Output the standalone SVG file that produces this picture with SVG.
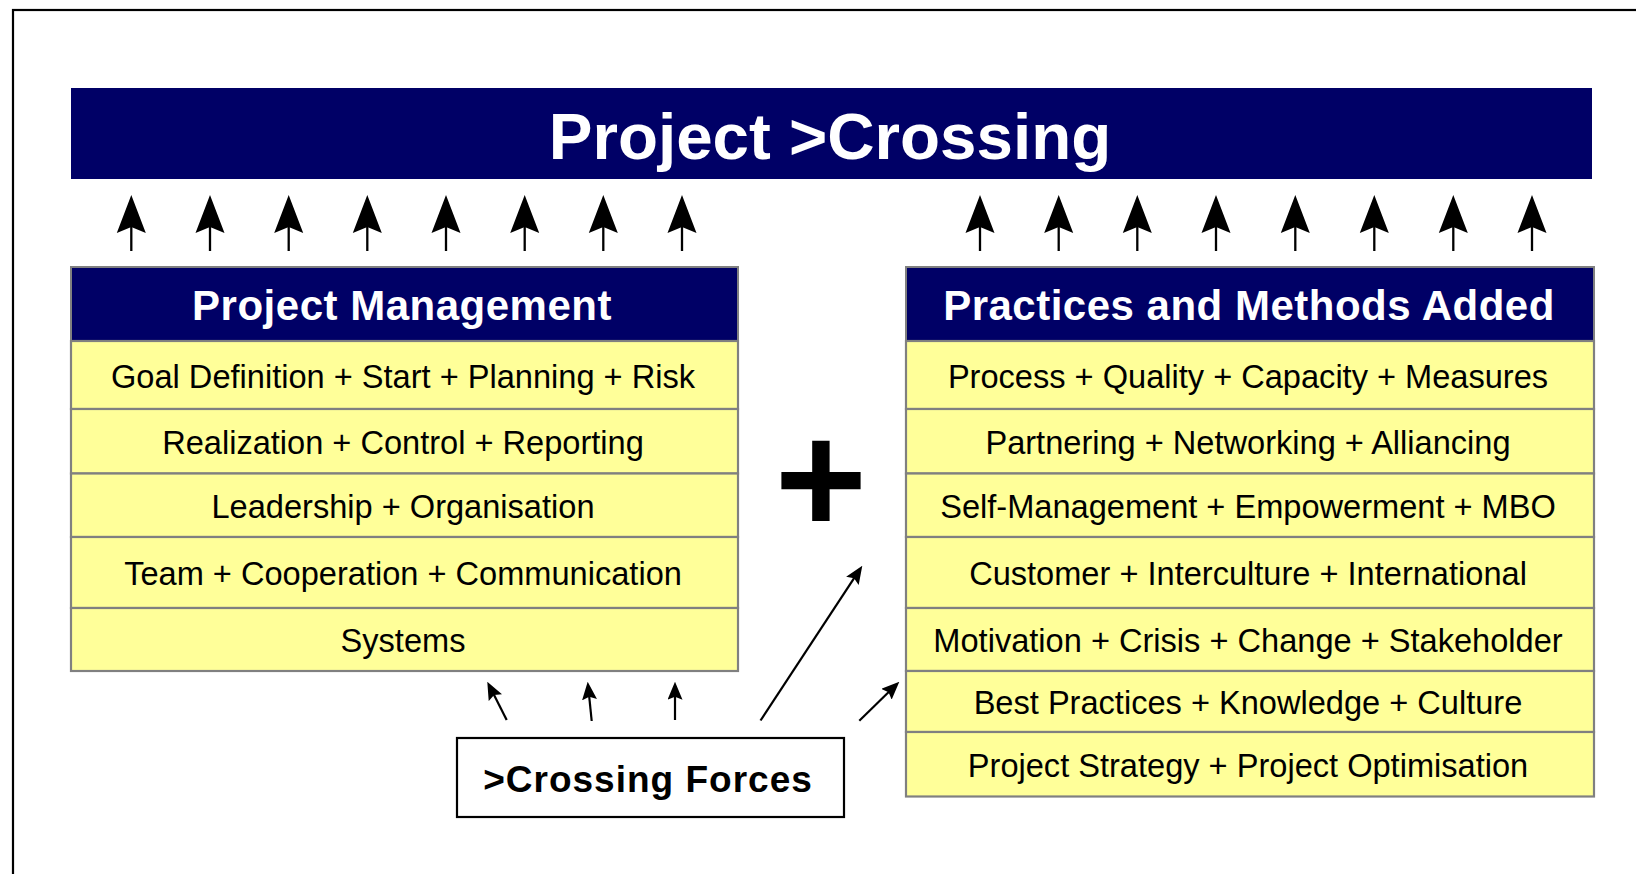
<svg xmlns="http://www.w3.org/2000/svg" width="1636" height="874" viewBox="0 0 1636 874">
<style>
.frame{fill:none;stroke:#000;stroke-width:2.2}
.navy{fill:#000066;stroke:#808080;stroke-width:2}
.row{fill:#ffff99;stroke:#808080;stroke-width:2.2}
.t{font-family:"Liberation Sans",Arial,sans-serif;text-anchor:middle}
.title{font-size:65.5px;font-weight:bold;fill:#fff}
.head{font-size:42px;font-weight:bold;fill:#fff;letter-spacing:0.5px}
.item{font-size:32.6px;fill:#000}
.big{stroke:#000;stroke-width:2.3;fill:none;marker-end:url(#bighead)}
.small{stroke:#000;stroke-width:2.2;fill:none;marker-end:url(#smallhead)}
</style>
<defs>
<marker id="bighead" markerUnits="userSpaceOnUse" viewBox="0 0 38 31" markerWidth="38" markerHeight="31" refX="22" refY="15.5" orient="auto">
<path d="M0,1 L38,15.5 L0,30 L6,15.5 Z" fill="#000"/>
</marker>
<marker id="smallhead" markerUnits="userSpaceOnUse" viewBox="0 0 18 15" markerWidth="18" markerHeight="15" refX="10" refY="7.5" orient="auto">
<path d="M0,0 L18,7.5 L0,15 L3,7.5 Z" fill="#000"/>
</marker>
</defs>
<rect width="1636" height="874" fill="#fff"/>
<rect class="frame" x="13" y="10" width="1640" height="900"/>

<g id="title">
<rect x="71" y="88" width="1521" height="91" fill="#000066"/>
<text class="t title" x="830" y="159">Project &gt;Crossing</text>
</g>

<g id="project-management">
<rect class="navy" x="71" y="267" width="667" height="74"/>
<text class="t head" x="402" y="320">Project Management</text>
<rect class="row" x="71" y="341" width="667" height="68"/>
<text class="t item" x="403" y="387.5">Goal Definition + Start + Planning + Risk</text>
<rect class="row" x="71" y="409" width="667" height="64.5"/>
<text class="t item" x="403" y="453.8">Realization + Control + Reporting</text>
<rect class="row" x="71" y="473.5" width="667" height="63.5"/>
<text class="t item" x="403" y="517.8">Leadership + Organisation</text>
<rect class="row" x="71" y="537" width="667" height="71"/>
<text class="t item" x="403" y="585">Team + Cooperation + Communication</text>
<rect class="row" x="71" y="608" width="667" height="63"/>
<text class="t item" x="403" y="652">Systems</text>
</g>

<g id="practices-methods">
<rect class="navy" x="906" y="267" width="688" height="74"/>
<text class="t head" x="1249" y="320">Practices and Methods Added</text>
<rect class="row" x="906" y="341" width="688" height="68"/>
<text class="t item" x="1248" y="387.5">Process + Quality + Capacity + Measures</text>
<rect class="row" x="906" y="409" width="688" height="64.5"/>
<text class="t item" x="1248" y="453.8">Partnering + Networking + Alliancing</text>
<rect class="row" x="906" y="473.5" width="688" height="63.5"/>
<text class="t item" x="1248" y="517.8">Self-Management + Empowerment + MBO</text>
<rect class="row" x="906" y="537" width="688" height="71"/>
<text class="t item" x="1248" y="585">Customer + Interculture + International</text>
<rect class="row" x="906" y="608" width="688" height="63"/>
<text class="t item" x="1248" y="652">Motivation + Crisis + Change + Stakeholder</text>
<rect class="row" x="906" y="671" width="688" height="61"/>
<text class="t item" x="1248" y="714">Best Practices + Knowledge + Culture</text>
<rect class="row" x="906" y="732" width="688" height="64.5"/>
<text class="t item" x="1248" y="776.8">Project Strategy + Project Optimisation</text>
</g>

<g id="plus">
<text class="t" x="821" y="533" font-size="158" font-weight="bold" fill="#000">+</text>
</g>

<g id="crossing-forces">
<rect x="457" y="738" width="387" height="79" fill="#fff" stroke="#000" stroke-width="2.2"/>
<text class="t" x="648" y="792" font-size="37" font-weight="bold" letter-spacing="1" fill="#000">&gt;Crossing Forces</text>
</g>

<g id="connectors">
<line class="big" x1="131.3" y1="251" x2="131.3" y2="211"/>
<line class="big" x1="210" y1="251" x2="210" y2="211"/>
<line class="big" x1="288.7" y1="251" x2="288.7" y2="211"/>
<line class="big" x1="367.3" y1="251" x2="367.3" y2="211"/>
<line class="big" x1="446" y1="251" x2="446" y2="211"/>
<line class="big" x1="524.7" y1="251" x2="524.7" y2="211"/>
<line class="big" x1="603.3" y1="251" x2="603.3" y2="211"/>
<line class="big" x1="682" y1="251" x2="682" y2="211"/>
<line class="big" x1="980" y1="251" x2="980" y2="211"/>
<line class="big" x1="1058.7" y1="251" x2="1058.7" y2="211"/>
<line class="big" x1="1137.3" y1="251" x2="1137.3" y2="211"/>
<line class="big" x1="1216" y1="251" x2="1216" y2="211"/>
<line class="big" x1="1295.3" y1="251" x2="1295.3" y2="211"/>
<line class="big" x1="1374.3" y1="251" x2="1374.3" y2="211"/>
<line class="big" x1="1453.3" y1="251" x2="1453.3" y2="211"/>
<line class="big" x1="1532" y1="251" x2="1532" y2="211"/>
<line class="small" x1="506.7" y1="720" x2="490.9" y2="688.8"/>
<line class="small" x1="591.7" y1="721" x2="588.5" y2="689.7"/>
<line class="small" x1="675" y1="720" x2="675" y2="689.7"/>
<line class="small" x1="760.5" y1="720.5" x2="857.9" y2="572.4"/>
<line class="small" x1="859.3" y1="720.7" x2="893.6" y2="687.3"/>
</g>
</svg>
